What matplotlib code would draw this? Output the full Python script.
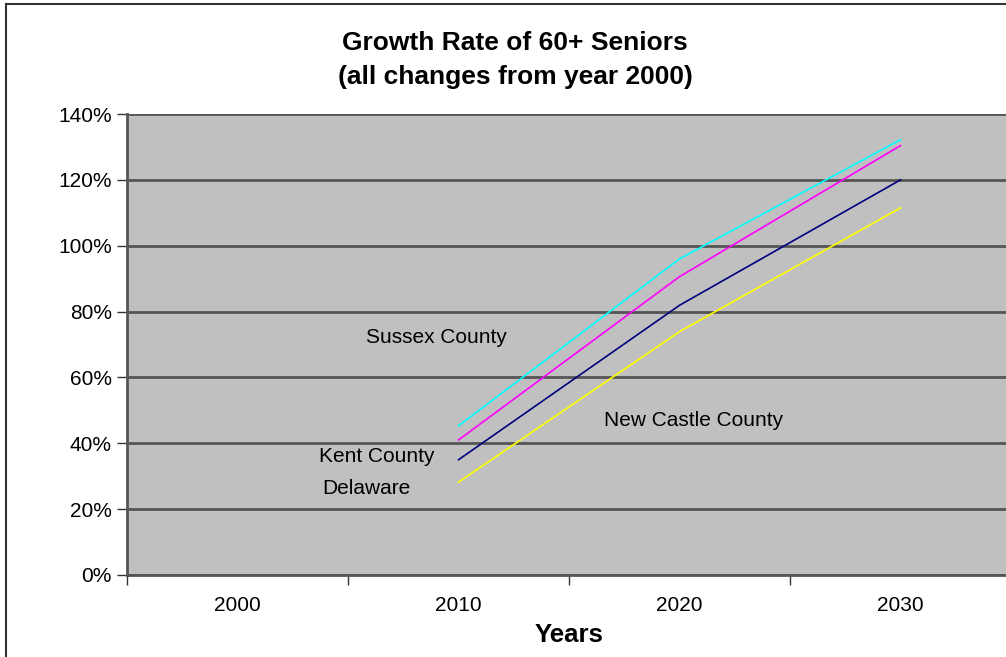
import matplotlib
matplotlib.use("Agg")
import matplotlib.pyplot as plt
from matplotlib.lines import Line2D
from matplotlib.ticker import FuncFormatter, FixedLocator

plt.rcParams['font.family'] = ['Liberation Sans', 'DejaVu Sans']

categories = ["2000", "2010", "2020", "2030"]
series_x = [1, 2, 3]
sussex = [0.453, 0.960, 1.322]
kent = [0.410, 0.906, 1.304]
delaware = [0.350, 0.819, 1.200]
new_castle = [0.282, 0.739, 1.115]
series = [("Sussex County", sussex, "#00FFFF"),
          ("Kent County", kent, "#FF00FF"),
          ("Delaware", delaware, "#000080"),
          ("New Castle County", new_castle, "#FFFF00")]
y_ticks = [0.0, 0.2, 0.4, 0.6, 0.8, 1.0, 1.2, 1.4]

W, H = 1006, 657
fig = plt.figure(figsize=(W / 100, H / 100), dpi=100)
fig.patch.set_facecolor("white")

left_px, right_px, top_px, bottom_px = 127, 1011, 114, 575
ax = fig.add_axes([left_px / W, 1 - bottom_px / H,
                   (right_px - left_px) / W, (bottom_px - top_px) / H])
ax.set_facecolor("#C0C0C0")

for name, vals, col in series:
    ax.plot(series_x, vals, color=col, linewidth=1.2, zorder=3)

ax.set_xlim(-0.5, 3.5)
ax.set_ylim(0, 1.4)
ax.set_yticks(y_ticks)
ax.yaxis.set_major_formatter(FuncFormatter(lambda v, p: f"{v * 100:.0f}%"))
ax.grid(axis="y", color="#555555", linewidth=2, zorder=1)
ax.set_axisbelow(True)

ax.xaxis.set_major_locator(FixedLocator([-0.5, 0.5, 1.5, 2.5, 3.5]))
ax.xaxis.set_major_formatter(FuncFormatter(lambda v, p: ""))
ax.xaxis.set_minor_locator(FixedLocator(range(len(categories))))
ax.set_xticklabels(categories, minor=True)
ax.tick_params(axis="x", which="major", direction="out", length=7, width=1, color="#333333")
ax.tick_params(axis="x", which="minor", length=0, pad=15, labelsize=15)
ax.tick_params(axis="y", direction="out", length=7, width=1, color="#333333", labelsize=15, pad=4)

for s in ["top", "right"]:
    ax.spines[s].set_visible(False)
for s in ["left", "bottom"]:
    ax.spines[s].set_color("#555555")
    ax.spines[s].set_linewidth(2)

ax.text(0.581, 0.720, "Sussex County", fontsize=15, va="center", ha="left")
ax.text(0.369, 0.359, "Kent County", fontsize=15, va="center", ha="left")
ax.text(0.382, 0.262, "Delaware", fontsize=15, va="center", ha="left")
ax.text(1.658, 0.468, "New Castle County", fontsize=15, va="center", ha="left")

fig.text(515 / W, 1 - 60 / H, "Growth Rate of 60+ Seniors\n(all changes from year 2000)",
         ha="center", va="center", fontsize=19, fontweight="bold", linespacing=1.55)
fig.text(569 / W, 1 - 635 / H, "Years", ha="center", va="center",
         fontsize=18.5, fontweight="bold")

# outer chart border (left and top edges visible)
fig.add_artist(Line2D([5.5 / W, 5.5 / W], [0, 1 - 4 / H], color="#333333", linewidth=1.5))
fig.add_artist(Line2D([5.5 / W, 1], [1 - 4 / H, 1 - 4 / H], color="#333333", linewidth=1.5))

fig.savefig("out.png", dpi=100)
